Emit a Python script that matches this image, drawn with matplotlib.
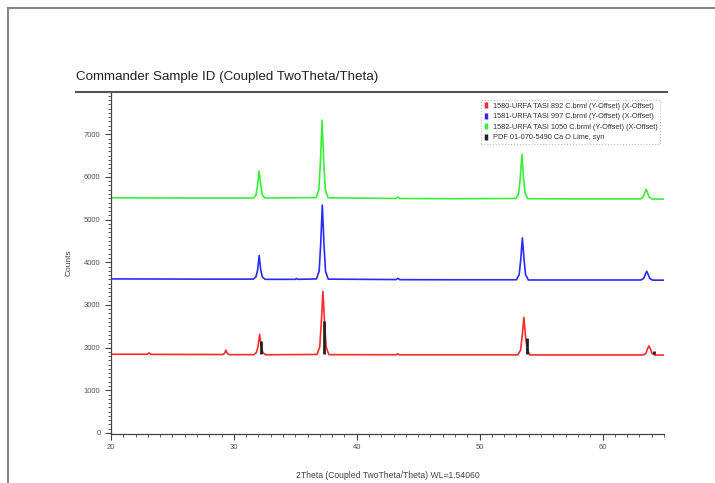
import matplotlib.pyplot as plt
from matplotlib.lines import Line2D
from matplotlib.ticker import MultipleLocator

verde_x = [20.0, 26.0, 31.58, 31.80, 31.93, 32.06, 32.19, 32.32, 32.54, 35.0,
           36.70, 36.92, 37.05, 37.18, 37.31, 37.44, 37.66, 43.2, 43.35, 43.5, 48.0,
           52.96, 53.18, 53.31, 53.44, 53.57, 53.70, 53.92, 58.0,
           63.08, 63.30, 63.42, 63.55, 63.68, 63.80, 64.02, 65.0]
verde_y = [5510, 5505, 5505, 5570, 5810, 6140, 5810, 5570, 5505, 5512,
           5515, 5710, 6380, 7330, 6380, 5710, 5510, 5495, 5530, 5495, 5490,
           5495, 5610, 5990, 6530, 5990, 5610, 5490, 5485,
           5485, 5525, 5620, 5710, 5620, 5525, 5482, 5480]

azul_x = [20.0, 28.0, 31.58, 31.80, 31.93, 32.06, 32.19, 32.32, 32.54, 35.0, 35.1, 35.2,
          36.72, 36.94, 37.07, 37.20, 37.33, 37.46, 37.68, 43.2, 43.35, 43.5, 48.0,
          53.00, 53.22, 53.35, 53.48, 53.61, 53.74, 53.96, 58.0,
          63.13, 63.35, 63.47, 63.60, 63.73, 63.85, 64.07, 65.0]
azul_y = [3610, 3605, 3605, 3655, 3810, 4160, 3810, 3655, 3600, 3600, 3620, 3600,
          3610, 3790, 4440, 5340, 4440, 3790, 3605, 3595, 3625, 3592, 3590,
          3590, 3710, 4080, 4570, 4080, 3710, 3585, 3585,
          3585, 3620, 3705, 3790, 3705, 3620, 3582, 3580]

rojo_x = [20.0, 22.95, 23.1, 23.25, 29.1, 29.25, 29.35, 29.45, 29.6,
          31.62, 31.84, 31.97, 32.10, 32.23, 32.36, 32.58,
          36.77, 36.99, 37.12, 37.25, 37.38, 37.51, 37.73, 43.2, 43.35, 43.5, 48.0,
          53.10, 53.33, 53.47, 53.60, 53.73, 53.87, 54.10, 58.0,
          63.31, 63.53, 63.65, 63.78, 63.91, 64.03, 64.25, 65.0]
rojo_y = [1845, 1845, 1875, 1842, 1838, 1870, 1940, 1870, 1835,
          1835, 1885, 2030, 2310, 2030, 1885, 1832,
          1840, 2020, 2600, 3320, 2600, 2020, 1835, 1832, 1855, 1830, 1830,
          1830, 1940, 2280, 2710, 2280, 1940, 1828, 1828,
          1828, 1865, 1965, 2040, 1965, 1865, 1826, 1825]

# Lineas de referencia PDF (CaO, cal)
pdf_x = [32.2, 37.35, 53.85, 64.15]
pdf_y = [2160, 2620, 2230, 1930]
pdf_base = 1840

etiquetas = ["1580-URFA TASI 892 C.brml (Y-Offset) (X-Offset)",
             "1581-URFA TASI 997 C.brml (Y-Offset) (X-Offset)",
             "1582-URFA TASI 1050 C.brml (Y-Offset) (X-Offset)",
             "PDF 01-070-5490 Ca O Lime, syn"]
colores = ["#ff2a2a", "#2a2aff", "#3aee3a", "#222222"]

plt.rcParams['font.family'] = ['Liberation Sans', 'DejaVu Sans']

fig = plt.figure(figsize=(7.15, 4.83), dpi=100)
ax = fig.add_axes([0.1552, 0.1014, 0.7734, 0.7081])

ax.plot(rojo_x, rojo_y, color=colores[0], lw=1.2)
ax.plot(azul_x, azul_y, color=colores[1], lw=1.2)
ax.plot(verde_x, verde_y, color=colores[2], lw=1.2)
ax.vlines(pdf_x, pdf_base, pdf_y, color=colores[3], lw=2)

ax.set_xlim(20, 65)
ax.set_ylim(-25, 7990)
ax.xaxis.set_major_locator(MultipleLocator(10))
ax.xaxis.set_minor_locator(MultipleLocator(1))
ax.yaxis.set_major_locator(MultipleLocator(1000))
ax.yaxis.set_minor_locator(MultipleLocator(100))
ax.tick_params(which='both', direction='out', colors='#444444', labelsize=5.5, labelcolor='#555555')
ax.tick_params(which='major', length=4, width=0.8)
ax.tick_params(which='minor', length=2, width=0.6)

for lado in ['top', 'right']:
    ax.spines[lado].set_visible(False)
for lado in ['left', 'bottom']:
    ax.spines[lado].set_color('#444444')
    ax.spines[lado].set_linewidth(0.9)

ax.set_ylabel('Counts', fontsize=6, color='#444444', labelpad=8)
ax.set_xlabel('2Theta (Coupled TwoTheta/Theta) WL=1.54060', fontsize=6.2, color='#444444', labelpad=14)

# Titulo y linea debajo
fig.text(0.106, 0.8406, 'Commander Sample ID (Coupled TwoTheta/Theta)', fontsize=9.6,
         va='center', ha='left', color='#222222')
fig.add_artist(Line2D([76 / 715, 667 / 715], [1 - 92 / 483, 1 - 92 / 483],
                      color='#555555', lw=1.5, transform=fig.transFigure))

# Borde de la pagina
fig.add_artist(Line2D([8 / 715, 1], [1 - 8 / 483, 1 - 8 / 483], color='#888888', lw=1.5,
                      transform=fig.transFigure))
fig.add_artist(Line2D([8 / 715, 8 / 715], [0, 1 - 8 / 483], color='#888888', lw=1.5,
                      transform=fig.transFigure))

# Leyenda
manijas = [Line2D([], [], color=c, marker='|', linestyle='None', markersize=5, mew=2.5)
           for c in colores]
ley = ax.legend(manijas, etiquetas, loc='upper right', bbox_to_anchor=(664 / 715, 1 - 96 / 483),
                bbox_transform=fig.transFigure, fontsize=5.3, handlelength=0.6, handletextpad=0.6,
                labelspacing=0.45, borderpad=0.4, fancybox=False, framealpha=1)
ley.get_frame().set_edgecolor('#bbbbcc')
ley.get_frame().set_linestyle(':')
ley.get_frame().set_linewidth(0.8)
for t in ley.get_texts():
    t.set_color('#333333')

fig.savefig('out.png', dpi=100)
